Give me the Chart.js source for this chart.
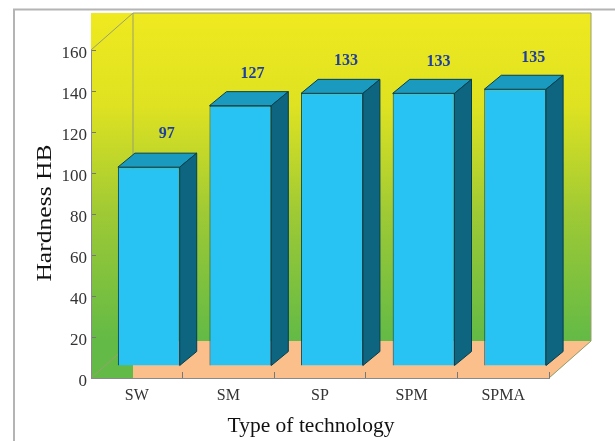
<!DOCTYPE html>
<html><head><meta charset="utf-8">
<style>html,body{margin:0;padding:0;background:#fff}canvas{display:block}</style>
<script src="https://cdn.jsdelivr.net/npm/chart.js@4"></script>
</head><body>
<div style="width:615px;height:441px;position:relative"><canvas id="c" width="615" height="441"></canvas></div>
<script>
const categories = ["SW","SM","SP","SPM","SPMA"];
const hardness = [97,127,133,133,135];
const valueLabels = ["97","127","133","133","135"];
const yTicks = [0,20,40,60,80,100,120,140,160];
const labelNudgeX = [18,12,14,15,18];
const labelNudgeY = [-19,-18,-18,-17,-17];

const SERIF = '"Liberation Serif","Times New Roman",serif';
const DEPTH_WALL = {x:42,y:37};   // depth of the 3D box
const DEPTH_BAR  = {x:17,y:14};   // depth of each bar
const FRONT = {x:12,y:12};        // offset of the bar row from the front plane

const scene = {
  id:'scene',
  beforeDraw(chart){
    const c = chart.ctx, a = chart.chartArea;
    const L=a.left,R=a.right,T=a.top,B=a.bottom,dx=DEPTH_WALL.x,dy=DEPTH_WALL.y;
    c.save();
    c.fillStyle='#fff'; c.fillRect(0,0,chart.width,chart.height);
    // outer frame
    c.strokeStyle='#b4b4b4'; c.lineWidth=2;
    c.beginPath(); c.moveTo(14,441); c.lineTo(14,9.5); c.lineTo(615,9.5); c.stroke();
    // walls
    const g=c.createLinearGradient(0,T-dy,0,B-dy);
    g.addColorStop(0,'#efe91f'); g.addColorStop(0.28,'#dfe221');
    g.addColorStop(0.62,'#9dc935'); g.addColorStop(1,'#63ba46');
    c.fillStyle=g; c.fillRect(L,T-dy,R+dx-L,B-T+dy);
    // floor (covers the wall below the back edge) and empty corner
    c.fillStyle='#fff';
    c.beginPath(); c.moveTo(R,B); c.lineTo(R+dx,B-dy); c.lineTo(R+dx,B+1); c.lineTo(R,B+1); c.closePath(); c.fill();
    c.fillStyle='#fbbf8c';
    c.beginPath(); c.moveTo(L+dx,B); c.lineTo(R,B); c.lineTo(R+dx,B-dy); c.lineTo(L+dx,B-dy); c.closePath(); c.fill();
    // wireframe
    c.strokeStyle='#9a9f70'; c.lineWidth=1;
    c.beginPath();
    c.moveTo(L,T); c.lineTo(L+dx,T-dy); c.lineTo(R+dx,T-dy); c.lineTo(R+dx,B-dy); c.lineTo(R,B);
    c.moveTo(L+dx,T-dy); c.lineTo(L+dx,B-dy); c.lineTo(L,B);
    c.stroke();
    c.restore();
  },
  beforeDatasetsDraw(chart){
    chart.ctx.save();
    chart.ctx.translate(FRONT.x,-FRONT.y);
  },
  afterDatasetsDraw(chart){
    const c=chart.ctx, meta=chart.getDatasetMeta(0), dx=DEPTH_BAR.x, dy=DEPTH_BAR.y;
    c.lineWidth=1; c.strokeStyle='#063f50'; c.lineJoin='round';
    meta.data.forEach(b=>{
      const l=b.x-b.width/2, r=b.x+b.width/2;
      c.fillStyle='#1b9ac0';
      c.beginPath(); c.moveTo(l,b.y); c.lineTo(l+dx,b.y-dy); c.lineTo(r+dx,b.y-dy); c.lineTo(r,b.y); c.closePath(); c.fill(); c.stroke();
      c.fillStyle='#0d657f';
      c.beginPath(); c.moveTo(r,b.y); c.lineTo(r+dx,b.y-dy); c.lineTo(r+dx,b.base-dy); c.lineTo(r,b.base); c.closePath(); c.fill(); c.stroke();
    });
    c.restore();
    // value labels
    c.save();
    c.fillStyle='#1f3fa0'; c.font='bold 16px '+SERIF; c.textAlign='center'; c.textBaseline='middle';
    meta.data.forEach((b,i)=>{
      c.fillText(valueLabels[i], b.x+FRONT.x+labelNudgeX[i], b.y-FRONT.y-DEPTH_BAR.y+labelNudgeY[i]);
    });
    c.restore();
    // axis titles
    c.save();
    c.fillStyle='#111'; c.textAlign='center'; c.textBaseline='middle';
    c.font='21.5px '+SERIF; c.fillText('Type of technology',311,426);
    c.translate(46,213); c.rotate(-Math.PI/2); c.scale(1.28,1);
    c.font='20px '+SERIF; c.fillText('Hardness HB',0,0);
    c.restore();
  }
};

new Chart(document.getElementById('c'),{
  type:'bar',
  data:{labels:categories,datasets:[{label:'Hardness HB',data:hardness,
    backgroundColor:'#29c3f3',borderColor:'#063f50',borderWidth:1,
    barPercentage:0.675,categoryPercentage:1}]},
  options:{
    responsive:false,animation:false,devicePixelRatio:1,
    layout:{padding:{top:50,right:66,left:0,bottom:0}},
    plugins:{legend:{display:false},tooltip:{enabled:false},title:{display:false}},
    scales:{
      x:{
        afterFit(s){s.height=63;},
        grid:{display:true,drawOnChartArea:false,drawTicks:true,tickLength:-6,color:'#777'},
        border:{display:true,color:'#8a8a8a'},
        ticks:{color:'#333',font:{family:SERIF,size:16},padding:14,maxRotation:0}
      },
      y:{
        min:0,max:160,
        afterFit(s){s.width=91;},
        afterBuildTicks(s){s.ticks=yTicks.map(v=>({value:v}));},
        grid:{display:true,drawOnChartArea:false,drawTicks:true,tickLength:-5,color:'#777'},
        border:{display:true,color:'#8a8a8a'},
        ticks:{color:'#333',font:{family:SERIF,size:17},padding:9,labelOffset:4}
      }
    }
  },
  plugins:[scene]
});
</script>
</body></html>
